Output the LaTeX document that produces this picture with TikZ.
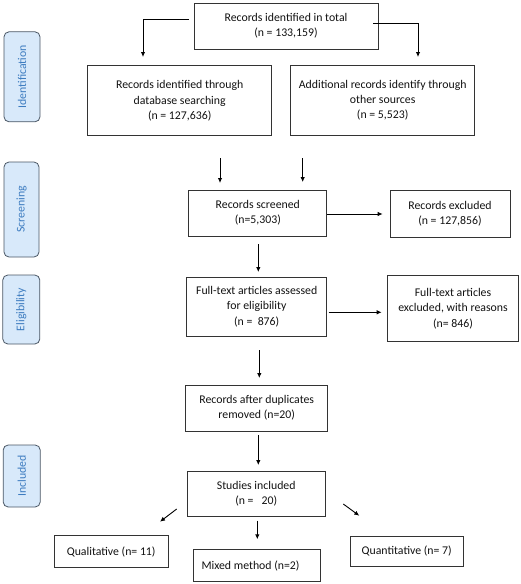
\documentclass[tikz,border=0pt]{standalone}
\usepackage{fontspec}
\setmainfont{Carlito}
\usetikzlibrary{arrows.meta,calc}
\definecolor{lblfill}{HTML}{D8E9FA}
\definecolor{lbldraw}{HTML}{4A5664}
\definecolor{lbltext}{HTML}{3D7CC0}
\definecolor{txt}{HTML}{111111}
\tikzset{
  box/.style={draw=black!80, line width=0.8pt, align=center, inner sep=2pt, text=txt, font=\fontsize{11.8}{15.3}\selectfont},
  lbl/.style={draw=lbldraw, line width=0.8pt, fill=lblfill, rounded corners=5pt, inner sep=0pt, text=lbltext, font=\fontsize{11.8}{13}\selectfont},
  arr/.style={line width=0.9pt, black, -{Latex[length=5pt,width=4.5pt]}}
}
\begin{document}
\begin{tikzpicture}[x=1pt,y=-1pt]
\useasboundingbox (0,0) rectangle (520,584);
% main boxes
\node[box, minimum width=184pt, minimum height=46pt] (top) at (286,26) {Records identified in total\\(n = 133,159)};
\node[box, minimum width=184pt, minimum height=70pt] (db) at (179.7,100.8) {Records identified through\\database searching\\(n = 127,636)};
\node[box, minimum width=184pt, minimum height=70pt] (other) at (382.7,100.3) {Additional records identify through\\other sources\\(n = 5,523)};
\node[box, minimum width=138pt, minimum height=46pt] (screen) at (257.8,213) {Records screened\\(n=5,303)};
\node[box, minimum width=120pt, minimum height=47pt] (excl) at (450,213.5) {Records excluded\\(n = 127,856)};
\node[box, minimum width=140pt, minimum height=59pt] (full) at (256.7,306.5) {Full-text articles assessed\\for eligibility\\(n =~ 876)};
\node[box, minimum width=131pt, minimum height=66pt] (fullex) at (453,308.5) {Full-text articles\\excluded, with reasons\\(n= 846)};
\node[box, minimum width=142pt, minimum height=46pt] (dup) at (256.7,408) {Records after duplicates\\removed (n=20)};
\node[box, minimum width=138pt, minimum height=45pt] (incl) at (256.2,493.4) {Studies included\\(n = ~~20)};
\node[box, minimum width=114pt, minimum height=31.6pt] (qual) at (111.2,551.5) {Qualitative (n= 11)};
\node[box, minimum width=127pt, minimum height=32.4pt] (mixed) at (257,565.5) {\makebox[111pt][l]{Mixed method (n=2)}};
\node[box, minimum width=113pt, minimum height=29.3pt] (quant) at (406.7,551.4) {Quantitative (n= 7)};
% stage labels
\node[lbl, minimum width=36pt, minimum height=90pt] (lid) at (22,76.8) {\rotatebox{90}{Identification}};
\node[lbl, minimum width=35pt, minimum height=95pt] (lsc) at (21.5,209.5) {\rotatebox{90}{Screening}};
\node[lbl, minimum width=37pt, minimum height=69pt] (lel) at (21.3,309.5) {\rotatebox{90}{Eligibility}};
\node[lbl, minimum width=37pt, minimum height=62pt] (lin) at (21.7,476) {\rotatebox{90}{Included}};
% free ends of connectors
\coordinate (tl0) at (189,19);
\coordinate (tl1) at (143,57);
\coordinate (tr0) at (373,23);
\coordinate (tr1) at (418,57);
\coordinate (a1s) at (220,158);
\coordinate (a1e) at (220,183);
\coordinate (a2s) at (302.7,158);
\coordinate (a2e) at (302.7,182);
\coordinate (a3s) at (258.3,244);
\coordinate (a3e) at (258.3,272);
\coordinate (a4s) at (259.3,350);
\coordinate (a4e) at (259.3,378);
\coordinate (a5s) at (258.3,435);
\coordinate (a5e) at (258.3,465);
\coordinate (d1s) at (176.7,509);
\coordinate (d1e) at (160,521.7);
\coordinate (d2s) at (257.3,520.7);
\coordinate (d2e) at (257.3,539.3);
\coordinate (d3s) at (343.3,504);
\coordinate (d3e) at (359.3,515.7);
\coordinate (e1) at (382.7,214);
\coordinate (e2) at (381.7,312.3);
% connectors
\draw[arr] (tl0) -| (tl1);
\draw[arr] (tr0) -| (tr1);
\draw[arr] (a1s) -- (a1e);
\draw[arr] (a2s) -- (a2e);
\draw[arr] (screen.east |- e1) -- (e1);
\draw[arr] (a3s) -- (a3e);
\draw[arr] ([xshift=1.5pt]full.east |- e2) -- (e2);
\draw[arr] (a4s) -- (a4e);
\draw[arr] (a5s) -- (a5e);
\draw[arr] (d1s) -- (d1e);
\draw[arr] (d2s) -- (d2e);
\draw[arr] (d3s) -- (d3e);
\end{tikzpicture}
\end{document}
